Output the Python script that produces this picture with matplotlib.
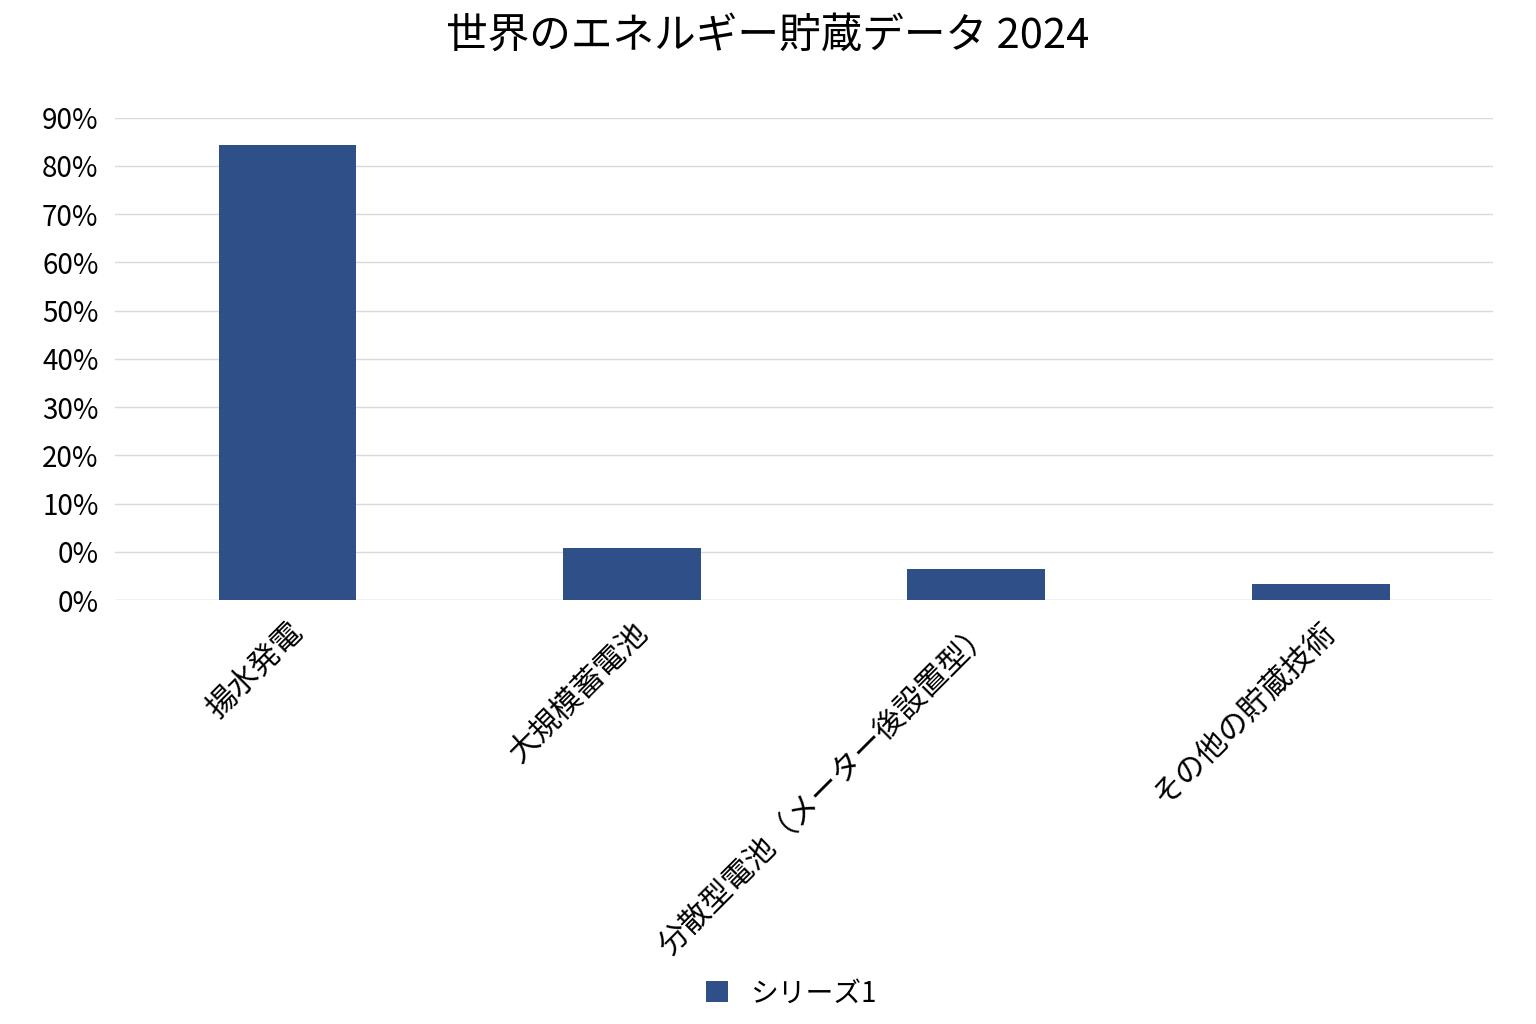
import matplotlib
matplotlib.use('Agg')
import matplotlib.pyplot as plt
import numpy as np

plt.rcParams['font.family'] = ['Noto Sans CJK JP', 'DejaVu Sans']

categories = ['揚水発電', '大規模蓄電池', '分散型電池（メーター後設置型）', 'その他の貯蔵技術']
values = [94.4, 10.8, 6.4, 3.3]  # axis units as drawn (0..100)
tick_pos = [0, 10, 20, 30, 40, 50, 60, 70, 80, 90, 100]
tick_labels = ['0%', '0%', '10%', '20%', '30%', '40%', '50%', '60%', '70%', '80%', '90%']
bar_color = '#2e4f87'

fig = plt.figure(figsize=(15.36, 10.24), dpi=100)
ax = fig.add_axes([0.075, 0.414, 0.897, 0.471])
x = np.arange(len(categories))
ax.bar(x, values, width=0.4, color=bar_color, label='シリーズ1', zorder=3)
ax.set_xlim(-0.5, len(categories) - 0.5)
ax.set_ylim(0, 100)
ax.set_yticks(tick_pos)
ax.set_yticklabels(tick_labels, fontsize=20)
ax.set_xticks(x)
ax.set_xticklabels(categories, rotation=45, ha='right', rotation_mode='anchor', fontsize=22)
ax.tick_params(length=0, pad=12)
ax.grid(axis='y', color='#d9d9d9', lw=1, zorder=0)
for s in ax.spines.values():
    s.set_visible(False)
ax.axhline(0, color='#d9d9d9', lw=1)

fig.suptitle('世界のエネルギー貯蔵データ 2024', fontsize=30, y=0.985)
fig.legend(loc='center', bbox_to_anchor=(0.515, 0.03), frameon=False, fontsize=20,
           handlelength=0.8, handleheight=0.8)

fig.savefig('out.png', dpi=100)
